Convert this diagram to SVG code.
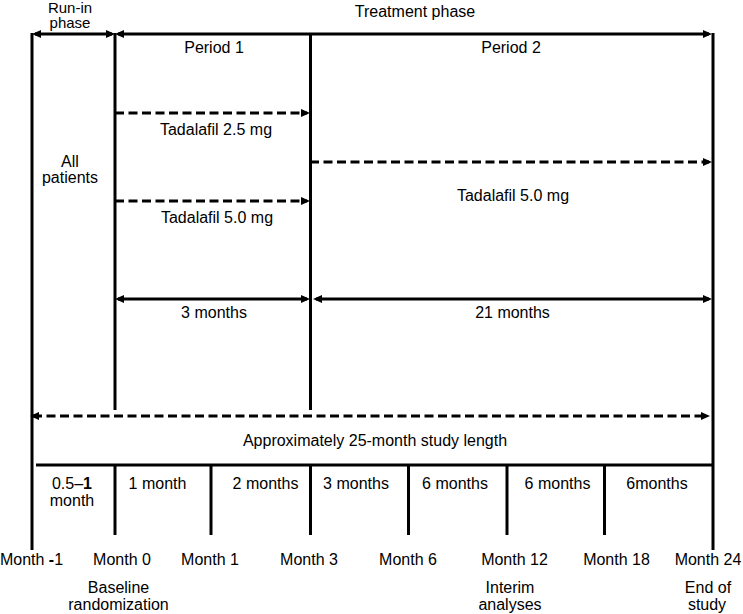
<svg xmlns="http://www.w3.org/2000/svg" width="743" height="614" viewBox="0 0 743 614">
<style>
text{font-family:"Liberation Sans",Arial,sans-serif;font-size:16px;fill:#000;text-anchor:middle}
.sm{font-size:15px}
.ln{stroke:#000;stroke-width:3;fill:none}
.ds{stroke:#000;stroke-width:3;fill:none;stroke-dasharray:9 4.5}
.arr{marker-end:url(#ah)}
.dbl{marker-start:url(#ah);marker-end:url(#ah)}
</style>
<defs>
<marker id="ah" markerUnits="userSpaceOnUse" viewBox="0 -5 10 10" markerWidth="10" markerHeight="10" refX="6" refY="0" orient="auto-start-reverse">
<path d="M0,-4 L9,0 L0,4 z" fill="#000"/>
</marker>
</defs>
<rect width="743" height="614" fill="#fff"/>
<g id="connectors">
<line class="ln" x1="32" y1="33" x2="32" y2="550"/>
<line class="ln" x1="115" y1="33" x2="115" y2="410"/>
<line class="ln" x1="310.5" y1="33" x2="310.5" y2="410"/>
<line class="ln" x1="713" y1="33" x2="713" y2="550"/>
<line class="ln dbl" x1="35" y1="34" x2="112" y2="34"/>
<line class="ln dbl" x1="118" y1="34" x2="709" y2="34"/>
<line class="ds arr" x1="115" y1="113" x2="307" y2="113"/>
<line class="ds arr" x1="115" y1="201" x2="307" y2="201"/>
<line class="ds arr" x1="310" y1="162" x2="709" y2="162"/>
<line class="ln dbl" x1="118" y1="299" x2="307" y2="299"/>
<line class="ln dbl" x1="316" y1="299" x2="709" y2="299"/>
<line class="ds dbl" x1="33" y1="416" x2="707" y2="416"/>
<line class="ln" x1="36" y1="465" x2="713" y2="465"/>
<line class="ln" x1="115" y1="465" x2="115" y2="535"/>
<line class="ln" x1="211" y1="465" x2="211" y2="535"/>
<line class="ln" x1="310.5" y1="465" x2="310.5" y2="535"/>
<line class="ln" x1="408.5" y1="465" x2="408.5" y2="535"/>
<line class="ln" x1="507" y1="465" x2="507" y2="535"/>
<line class="ln" x1="604.5" y1="465" x2="604.5" y2="535"/>
</g>
<g id="runin"><text class="sm" x="70" y="12.5">Run-in</text><text class="sm" x="70" y="28">phase</text></g>
<g id="treatment"><text x="415" y="17">Treatment phase</text></g>
<g id="period1"><text x="214" y="53">Period 1</text></g>
<g id="period2"><text x="511" y="53">Period 2</text></g>
<g id="tad25"><text x="216" y="135">Tadalafil 2.5 mg</text></g>
<g id="allpatients"><text x="70" y="167">All</text><text x="70" y="183">patients</text></g>
<g id="tad50a"><text x="217" y="223">Tadalafil 5.0 mg</text></g>
<g id="tad50b"><text x="513" y="201">Tadalafil 5.0 mg</text></g>
<g id="m3"><text x="214" y="318">3 months</text></g>
<g id="m21"><text x="512.5" y="318">21 months</text></g>
<g id="approx"><text x="375" y="446">Approximately 25-month study length</text></g>
<g id="segments">
<text x="72" y="489">0.5–<tspan font-weight="bold">1</tspan></text>
<text x="72" y="506">month</text>
<text x="157.5" y="489">1 month</text>
<text x="265.5" y="489">2 months</text>
<text x="356" y="489">3 months</text>
<text x="455" y="489">6 months</text>
<text x="557.5" y="489">6 months</text>
<text x="657" y="489">6months</text>
</g>
<g id="months">
<text x="31.5" y="565">Month <tspan font-weight="bold">-</tspan>1</text>
<text x="122" y="565">Month 0</text>
<text x="210" y="565">Month 1</text>
<text x="309" y="565">Month 3</text>
<text x="408" y="565">Month 6</text>
<text x="514.5" y="565">Month 12</text>
<text x="616.5" y="565">Month 18</text>
<text x="708" y="565">Month 24</text>
</g>
<g id="baseline"><text x="118.5" y="593">Baseline</text><text x="118.5" y="610">randomization</text></g>
<g id="interim"><text x="510" y="593">Interim</text><text x="510" y="610">analyses</text></g>
<g id="endofstudy"><text x="708" y="593">End of</text><text x="707" y="610">study</text></g>
</svg>
